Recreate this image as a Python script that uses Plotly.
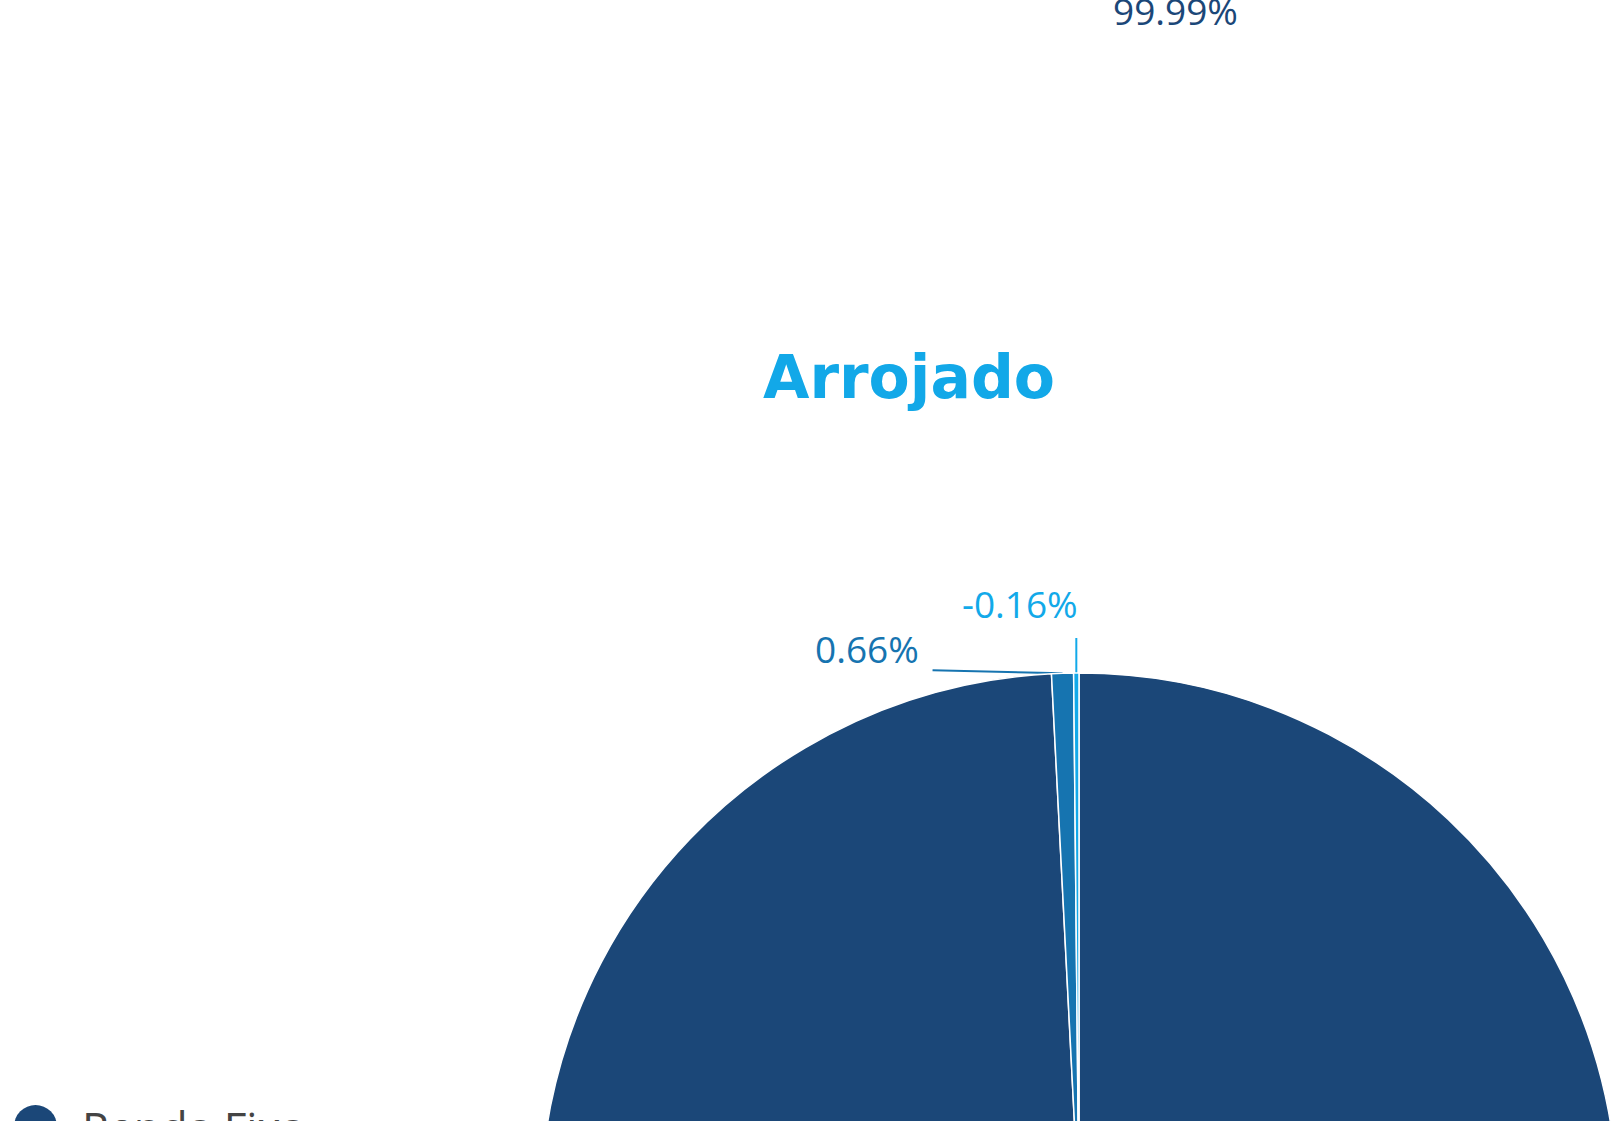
import math
import plotly.graph_objects as go

# Portfolio allocation for the "Arrojado" profile
title_text = "Arrojado"
categories = ["Renda Fixa", "Multimercado", "Caixa"]
returns_pct = [99.99, 0.66, -0.16]
slice_colors = ["#1b4778", "#1674b0", "#12a9e9"]

# Canvas and pie geometry (pixels, measured from the top-left corner)
CX, R = 1079, 539
TOP = 673
CY = TOP + R
W, H = CX + R, 1820


def px_x(x):
    return x / W


def px_y(y):
    return (H - y) / H


# slice sizes use the magnitude of each figure
sizes = [abs(v) for v in returns_pct]
total = sum(sizes)

fig = go.Figure(
    go.Pie(
        labels=categories,
        values=sizes,
        sort=False,
        direction="clockwise",
        rotation=0,
        textinfo="none",
        hoverinfo="label+percent",
        marker=dict(colors=slice_colors, line=dict(color="white", width=1.5)),
        domain=dict(x=[px_x(CX - R), px_x(CX + R)], y=[px_y(CY + R), px_y(CY - R)]),
        showlegend=False,
    )
)

# leader line offsets (end of line relative to rim point) and label offsets
# (right edge / middle of text relative to line end); None = no leader line
leader = [None, (-130, -3), (0, -35)]
label_off = [None, (-12, -22), (4, -35)]

shapes = []
annotations = []

cum = 0.0
for i, (v, s, col) in enumerate(zip(returns_pct, sizes, slice_colors)):
    mid = (cum + s / 2) / total * 2 * math.pi
    cum += s
    if leader[i] is None:
        continue
    rx = CX + R * math.sin(mid)
    ry = CY - R * math.cos(mid)
    ex, ey = rx + leader[i][0], ry + leader[i][1]
    shapes.append(dict(type="line", xref="paper", yref="paper",
                       x0=px_x(rx), y0=px_y(ry), x1=px_x(ex), y1=px_y(ey),
                       line=dict(color=col, width=2), layer="below"))
    annotations.append(dict(text=f"{v:.2f}%", xref="paper", yref="paper",
                            x=px_x(ex + label_off[i][0]), y=px_y(ey + label_off[i][1]),
                            xanchor="right", yanchor="middle", showarrow=False,
                            font=dict(family="Open Sans", size=37, color=col)))

# label of the large slice, near the top edge
annotations.append(dict(text=f"{returns_pct[0]:.2f}%", xref="paper", yref="paper",
                        x=px_x(1175), y=px_y(11), xanchor="center", yanchor="middle",
                        showarrow=False,
                        font=dict(family="Open Sans", size=37, color=slice_colors[0])))

# title
annotations.append(dict(text=f"<b>{title_text}</b>", xref="paper", yref="paper",
                        x=px_x(909), y=px_y(377), xanchor="center", yanchor="middle",
                        showarrow=False,
                        font=dict(family="DejaVu Sans", size=60, color="#12a8e8")))

# legend entry: round marker plus label
shapes.append(dict(type="circle", xref="paper", yref="paper",
                   x0=px_x(14), x1=px_x(57), y0=px_y(1148), y1=px_y(1105),
                   fillcolor=slice_colors[0], line=dict(width=0)))
annotations.append(dict(text=categories[0], xref="paper", yref="paper",
                        x=px_x(80), y=px_y(1127), xanchor="left", yanchor="middle",
                        showarrow=False,
                        font=dict(family="Open Sans", size=44, color="#444444")))

fig.update_layout(
    width=W, height=H,
    margin=dict(l=0, r=0, t=0, b=0),
    paper_bgcolor="white",
    plot_bgcolor="white",
    shapes=shapes,
    annotations=annotations,
)

fig.write_html("out.html")
